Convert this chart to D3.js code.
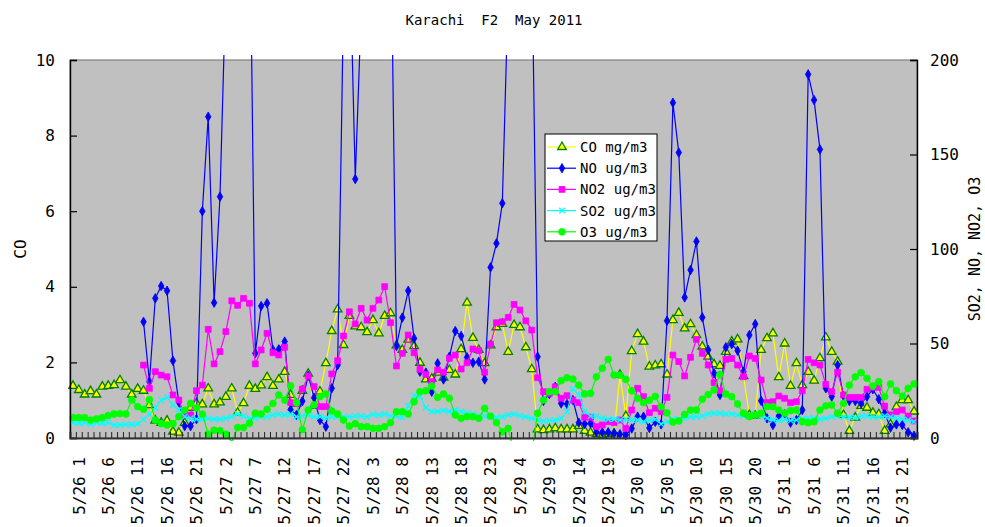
<!DOCTYPE html>
<html>
<head>
<meta charset="utf-8">
<script src="https://cdn.jsdelivr.net/npm/d3@7"></script>
<style>
  body { margin: 0; background: #fff; }
  svg { display: block; }
  text { font-family: "DejaVu Sans Mono", monospace; fill: #000; }
</style>
</head>
<body>
<svg id="chart" width="985" height="527"></svg>
<script>
// Hourly observations, Karachi F2, 26–31 May 2011 (hours 0–23 each day)
const days = [26, 27, 28, 29, 30, 31];
const hours = d3.range(24);
const categories = days.flatMap(d => hours.map(h => `5/${d} ${h}`));

// CO, mg/m3 (left axis)
const co = [
  1.38,1.27,1.15,1.24,1.15,1.36,1.38,1.40,1.53,1.36,1.15,1.30,1.25,0.87,0.46,0.40,0.46,0.17,0.14,0.40,0.80,0.92,0.89,1.31,
  0.89,0.94,1.09,1.31,0.67,0.92,1.38,1.30,1.39,1.61,1.38,1.55,1.75,1.14,0.90,1.25,1.70,0.85,1.23,1.98,2.83,3.40,2.46,3.23,
  2.95,2.93,2.80,3.12,2.77,3.23,3.30,2.45,2.33,2.60,2.43,1.99,1.55,1.57,1.73,1.60,1.80,1.68,2.35,3.58,2.65,2.33,1.98,2.45,
  2.93,3.02,2.28,2.99,2.93,2.40,1.82,0.23,0.21,0.23,0.26,0.23,0.23,0.23,0.32,0.19,0.14,0.10,0.08,0.10,0.12,1.67,0.58,2.30,
  2.75,2.55,1.89,1.92,1.95,1.68,3.12,3.31,2.90,3.01,2.72,2.42,2.15,1.95,1.91,2.28,2.55,2.61,1.64,0.61,0.59,2.33,2.64,2.77,
  1.61,2.50,1.38,1.98,1.40,1.75,1.52,2.11,2.66,2.28,2.02,0.61,0.19,0.54,0.85,0.80,0.67,0.63,0.19,0.36,0.82,1.00,1.00,0.70
];

// NO, ug/m3 (right axis)
const no = [
  null,null,null,null,null,null,null,null,null,null,null,null,61.5,29.8,73.9,80.4,77.9,40.9,19,6.3,6.3,10,120,170,
  71.6,127.7,240,300,340,330,300,44.8,69.8,71.3,46.6,46.9,51.0,15,12.2,19.5,33,21.3,9.5,6.0,26.3,38.6,230,265,
  137,225,300,320,330,310,285,48.7,63.7,77.9,52.7,35.1,34.6,24.5,39.5,31.0,43.0,56.6,54.0,42.7,39.8,40.4,31.0,90.3,
  103,124.2,236,290,300,290,260,43.0,19.6,23.3,27.1,18.3,18.0,20.1,8.1,7.4,7.8,3.0,3.0,3.0,2.5,2.0,1.6,5.0,
  11.3,11.3,5.3,8.6,7.2,62,177.4,151,74.4,88.9,104,63.8,46.6,34.2,22.8,48,49.7,46.2,35.1,54.5,60.3,19.7,10.4,6.9,
  11.6,12.7,8.1,9.5,14.8,192.4,178.8,152.7,26.3,21.9,38.6,22.2,19.6,19.6,18.3,21.9,25.8,20.5,13.1,5.5,7.2,6.9,3.0,1.2
];

// NO2, ug/m3 (right axis)
const no2 = [
  null,null,null,null,null,null,null,null,null,null,null,null,38.6,26.3,35.1,33.3,32.4,22.8,20.1,12.2,12.2,25.0,28.0,57.5,
  39.2,45.7,56.3,72.6,70.2,73.9,71.3,39.2,46.6,55.4,45.1,43.9,48.0,18.7,18.3,25.9,32.8,27.2,16.6,16.6,33.9,40.9,54.0,66.8,
  60.3,68.6,62.4,68.6,73.0,80.1,61.0,38.1,44.8,54.5,45.1,36.3,33.7,29.8,36.0,34.8,42.2,43.9,36.5,39.8,47.1,46.2,34.8,49.7,
  61.0,61.5,63.8,70.7,67.7,62.0,57.1,31.9,24.5,23.6,27.1,21.0,22.4,20.1,18.7,11.0,11.0,6.0,6.9,8.6,8.1,9.5,5.1,14.8,
  26.3,21.9,13.4,15.7,13.9,21.5,43.9,40.4,32.8,42.7,52.2,44.8,38.6,29.3,25.0,41.6,42.1,38.6,32.4,43.4,42.1,30.7,18.7,19.2,
  22.2,21.0,18.7,19.2,25.0,41.6,39.8,38.6,28.4,24.5,34.8,22.8,21.5,21.5,21.5,25.8,26.8,26.8,16.9,12.2,13.9,14.8,11.6,9.0
];

// SO2, ug/m3 (right axis)
const so2 = [
  8.1,7.8,8.1,7.4,8.1,7.8,8.3,6.9,6.9,7.2,7.2,7.6,9.8,12.5,16.0,20.0,21.5,17.5,14.8,11.3,10.4,9.9,9.9,10.4,
  9.9,9.9,10.4,11.3,12.7,11.6,10.4,10.4,11.3,11.3,12.2,12.7,12.2,12.7,11.3,11.6,12.2,11.3,11.3,10.4,11.3,11.3,11.3,11.3,
  11.6,11.6,11.3,12.5,12.2,12.7,11.6,11.6,11.0,17.0,22.5,22.0,16.0,14.0,14.0,14.5,14.0,14.8,14.0,13.2,12.7,11.6,11.6,11.3,
  10.9,11.3,12.2,12.7,11.6,11.3,10.5,9.5,9.0,9.2,9.5,10.4,14.0,26.0,23.0,14.0,11.6,11.6,10.4,9.9,9.9,9.5,9.9,9.5,
  9.5,8.6,9.2,9.9,7.4,8.6,9.9,9.9,10.4,11.3,11.3,11.6,12.7,13.1,13.1,12.7,12.7,12.2,11.6,12.2,12.7,11.6,10.4,9.5,
  9.2,9.9,9.2,9.5,9.9,10.4,10.4,9.9,10.4,11.3,11.6,11.3,11.0,10.8,11.6,11.6,11.3,11.3,11.6,11.3,10.4,9.9,9.5,8.6
];

// O3, ug/m3 (right axis)
const o3 = [
  10.8,10.8,10.8,9.5,10.1,10.8,11.9,12.7,12.9,12.7,20.1,16.6,15.2,20.3,9.5,7.6,6.9,7.6,11.3,14.8,18.3,15.9,12.6,2.1,
  4.1,3.9,2.0,-2,5.5,5.5,7.8,13.1,12.7,15.2,18.3,22.8,20.0,27.7,18.7,4.4,14.8,17.5,21.9,23.3,14.3,12.7,9.5,6.3,
  7.6,6.0,6.0,5.1,5.1,6.0,8.1,13.9,13.9,12.7,19.2,24.5,25.0,27.5,21.5,23.3,21.0,12.2,10.4,11.3,11.3,10.4,15.7,11.6,
  8.1,3.3,5.1,-8,-15,-15,-8,13.1,20.1,24.5,24.5,30.3,31.9,31.2,28.0,23.3,23.6,32.4,36.9,41.6,33.3,33.3,31.0,25.0,
  21.0,18.7,20.0,22.0,16.5,13.3,8.4,9.0,12.5,14.8,14.8,20.5,23.0,25.4,33.6,23.3,21.9,18.0,13.1,11.3,12.2,13.1,16.6,16.6,
  14.8,13.1,14.5,14.8,8.6,8.1,8.6,14.8,17.0,17.5,13.1,18.3,28.0,32.4,34.6,31.6,27.5,29.8,21.9,28.6,25.0,22.2,26.3,28.6
];

const leftTicks = [0, 2, 4, 6, 8, 10];
const rightTicks = [0, 50, 100, 150, 200];
const labelEvery = 5;
const labelCategories = categories.filter((c, i) => i % labelEvery === 1);

const titleText = "Karachi  F2  May 2011";
const leftTitle = "CO";
const rightTitle = "SO2, NO, NO2, O3";

const series = [
  { name: "CO mg/m3",  values: co,  axis: "left",  color: "#ffff00", marker: "triangle" },
  { name: "NO ug/m3",  values: no,  axis: "right", color: "#0000ff", marker: "diamond" },
  { name: "NO2 ug/m3", values: no2, axis: "right", color: "#ff00ff", marker: "square" },
  { name: "SO2 ug/m3", values: so2, axis: "right", color: "#00ffff", marker: "times" },
  { name: "O3 ug/m3",  values: o3,  axis: "right", color: "#00ff00", marker: "circle" }
];

// ---- layout ----
const svg = d3.select("#chart");
const plot = { left: 70, right: 917, top: 60, bottom: 438 };

const x = d3.scaleBand().domain(categories).range([plot.left, plot.right]);
const xc = c => x(c) + x.bandwidth() / 2;
const xBound = d3.scaleLinear().domain([0, categories.length]).range([plot.left, plot.right]);
const yL = d3.scaleLinear().domain([0, 10]).range([plot.bottom, plot.top]);
const yR = d3.scaleLinear().domain([0, 200]).range([plot.bottom, plot.top]);

// plot background
svg.append("rect")
  .attr("x", plot.left).attr("y", plot.top)
  .attr("width", plot.right - plot.left).attr("height", plot.bottom - plot.top)
  .attr("fill", "#c0c0c0").attr("stroke", "#808080").attr("stroke-width", 1.2);

svg.append("clipPath").attr("id", "plotClip")
  .append("rect")
  .attr("x", plot.left - 2).attr("y", plot.top - 5)
  .attr("width", plot.right - plot.left + 4).attr("height", plot.bottom - plot.top + 8);

// title (double spaces kept)
svg.append("text")
  .attr("x", 494).attr("y", 25)
  .attr("text-anchor", "middle")
  .attr("xml:space", "preserve")
  .style("white-space", "pre")
  .style("font-size", "14px")
  .text(titleText);

// ---- series ----
const symbolTypes = {
  triangle: d3.symbolTriangle,
  diamond: d3.symbolDiamond,
  square: d3.symbolSquare,
  circle: d3.symbolCircle,
  times: d3.symbolTimes || d3.symbolX || d3.symbolCross
};
const symbolSizes = { triangle: 32, diamond: 26, square: 34, circle: 36, times: 22 };

const gSeries = svg.append("g").attr("clip-path", "url(#plotClip)");

series.forEach(s => {
  const y = s.axis === "left" ? yL : yR;
  const pts = categories.map((c, i) => ({ c, v: s.values[i] }));
  const line = d3.line()
    .defined(d => d.v !== null)
    .x(d => xc(d.c))
    .y(d => y(d.v));

  const g = gSeries.append("g");
  g.append("path")
    .datum(pts)
    .attr("fill", "none")
    .attr("stroke", s.color)
    .attr("stroke-width", 1.2)
    .attr("d", line);

  const sym = d3.symbol().type(symbolTypes[s.marker]).size(symbolSizes[s.marker]);
  g.selectAll("path.mk")
    .data(pts.filter(d => d.v !== null && d.v >= 0))
    .join("path")
    .attr("class", "mk")
    .attr("transform", d => `translate(${xc(d.c)},${y(d.v)})`)
    .attr("d", sym())
    .attr("fill", s.marker === "times" ? "none" : s.color)
    .attr("stroke", s.marker === "triangle" ? "#008000" : s.color)
    .attr("stroke-width", s.marker === "triangle" ? 1.3 : (s.marker === "times" ? 1.3 : 0.8));
});

// ---- axes ----
const axisL = svg.append("g")
  .attr("transform", `translate(${plot.left},0)`)
  .call(d3.axisLeft(yL).tickValues(leftTicks).tickSize(-7).tickPadding(15).tickFormat(d3.format("d")));
const axisR = svg.append("g")
  .attr("transform", `translate(${plot.right},0)`)
  .call(d3.axisRight(yR).tickValues(rightTicks).tickSize(-7).tickPadding(13).tickFormat(d3.format("d")));

// category boundary ticks along the bottom
const axisMinor = svg.append("g")
  .attr("transform", `translate(0,${plot.bottom})`)
  .call(d3.axisBottom(xBound).tickValues(d3.range(categories.length + 1)).tickSize(-6).tickFormat(""));

// hourly labels
const axisB = svg.append("g")
  .attr("transform", `translate(0,${plot.bottom})`)
  .call(d3.axisBottom(x).tickValues(labelCategories).tickSize(0).tickFormat(d => d));
axisB.selectAll("text")
  .attr("transform", "rotate(-90)")
  .attr("x", -19).attr("y", 0).attr("dy", "0.36em")
  .style("text-anchor", "end")
  .style("font-size", "16px");

[axisL, axisR].forEach(a => {
  a.selectAll("text").style("font-size", "16px");
  a.selectAll(".tick line").attr("stroke", "#000").attr("stroke-width", 1.2);
  a.select(".domain").attr("stroke", "#000").attr("stroke-width", 1.4);
});
axisMinor.selectAll(".tick line").attr("stroke", "#222").attr("stroke-width", 1);
axisMinor.select(".domain").attr("stroke", "#333").attr("stroke-width", 2);
axisB.select(".domain").remove();

// axis titles
svg.append("text")
  .attr("transform", `translate(20,${(plot.top + plot.bottom) / 2}) rotate(-90)`)
  .attr("text-anchor", "middle").attr("dy", "0.35em")
  .style("font-size", "16px")
  .text(leftTitle);
svg.append("text")
  .attr("transform", `translate(975,${(plot.top + plot.bottom) / 2}) rotate(-90)`)
  .attr("text-anchor", "middle").attr("dy", "0.35em")
  .style("font-size", "15px")
  .text(rightTitle);

// ---- legend ----
const legend = svg.append("g").attr("transform", "translate(545,134)");
legend.append("rect")
  .attr("width", 112).attr("height", 107)
  .attr("fill", "#fff").attr("stroke", "#000").attr("stroke-width", 1);
series.forEach((s, i) => {
  const row = legend.append("g").attr("transform", `translate(0,${13 + i * 21.2})`);
  row.append("line")
    .attr("x1", 2).attr("x2", 31).attr("y1", 0).attr("y2", 0)
    .attr("stroke", s.color).attr("stroke-width", 1.2);
  row.append("path")
    .attr("transform", "translate(17,0)")
    .attr("d", d3.symbol().type(symbolTypes[s.marker]).size(symbolSizes[s.marker])())
    .attr("fill", s.marker === "times" ? "none" : s.color)
    .attr("stroke", s.marker === "triangle" ? "#008000" : s.color)
    .attr("stroke-width", s.marker === "triangle" ? 1.3 : (s.marker === "times" ? 1.3 : 0.8));
  row.append("text")
    .attr("x", 35).attr("y", 0).attr("dy", "0.36em")
    .style("font-size", "14px")
    .text(s.name);
});
</script>
</body>
</html>
